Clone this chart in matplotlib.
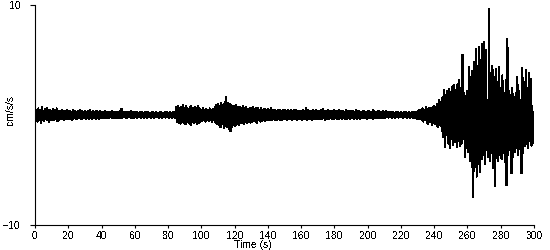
import numpy as np
import matplotlib.pyplot as plt

# peak values, one pair per second (cm/s/s)
upper = [
    0.55, 0.45, 0.6, 0.5, 0.7, 0.4, 0.55, 0.65, 0.45, 0.5,
    0.4, 0.55, 0.45, 0.6, 0.4, 0.35, 0.5, 0.4, 0.35, 0.45,
    0.35, 0.4, 0.3, 0.45, 0.35, 0.3, 0.4, 0.5, 0.35, 0.3,
    0.4, 0.3, 0.35, 0.45, 0.3, 0.35, 0.3, 0.4, 0.3, 0.35,
    0.3, 0.25, 0.35, 0.3, 0.25, 0.3, 0.35, 0.25, 0.3, 0.25,
    0.3, 0.35, 0.55, 0.3, 0.25, 0.3, 0.25, 0.3, 0.35, 0.25,
    0.25, 0.3, 0.2, 0.25, 0.3, 0.2, 0.25, 0.3, 0.25, 0.2,
    0.25, 0.3, 0.2, 0.25, 0.2, 0.3, 0.25, 0.2, 0.25, 0.3,
    0.2, 0.25, 0.2, 0.25, 0.3, 0.7, 0.8, 0.6, 0.75, 0.9,
    0.65, 0.8, 0.55, 0.7, 0.85, 0.6, 0.75, 0.65, 0.8, 0.6,
    0.5, 0.6, 0.45, 0.55, 0.5, 0.6, 0.45, 0.55, 0.7, 0.9,
    1.0, 0.85, 1.1, 0.95, 1.2, 1.65, 1.1, 1.0, 0.9, 0.85,
    0.8, 0.9, 0.7, 0.75, 0.65, 0.8, 0.6, 0.7, 0.55, 0.65,
    0.6, 0.7, 0.55, 0.6, 0.65, 0.5, 0.6, 0.45, 0.55, 0.5,
    0.55, 0.45, 0.6, 0.5, 0.45, 0.4, 0.5, 0.45, 0.4, 0.5,
    0.45, 0.4, 0.5, 0.35, 0.45, 0.4, 0.5, 0.45, 0.4, 0.35,
    0.4, 0.5, 0.35, 0.6, 0.45, 0.4, 0.35, 0.45, 0.4, 0.5,
    0.35, 0.4, 0.45, 0.55, 0.4, 0.35, 0.45, 0.4, 0.35, 0.4,
    0.45, 0.35, 0.4, 0.5, 0.35, 0.4, 0.3, 0.45, 0.4, 0.35,
    0.4, 0.35, 0.3, 0.45, 0.35, 0.4, 0.3, 0.35, 0.4, 0.3,
    0.35, 0.4, 0.3, 0.45, 0.35, 0.3, 0.4, 0.35, 0.3, 0.35,
    0.3, 0.35, 0.25, 0.3, 0.25, 0.3, 0.2, 0.25, 0.3, 0.2,
    0.25, 0.2, 0.25, 0.3, 0.2, 0.25, 0.2, 0.3, 0.25, 0.3,
    0.35, 0.5, 0.45, 0.6, 0.5, 0.7, 0.55, 0.65, 0.6, 0.7,
    0.8, 0.7, 1.0, 1.4, 1.2, 1.6, 2.3, 1.8, 2.2, 2.4,
    2.1, 2.6, 2.7, 2.3, 2.8, 3.2, 2.5, 5.45, 2.0, 1.7,
    2.2, 4.4, 3.5, 4.0, 4.8, 6.0, 4.5, 6.2, 5.0, 6.5,
    6.6, 5.9, 1.4, 9.6, 3.8, 4.5, 3.5, 4.2, 3.0, 4.4,
    2.5, 3.6, 2.0, 3.2, 6.9, 2.2, 1.8, 2.5, 1.6, 2.0,
    3.5, 2.2, 1.4, 4.3, 3.0, 4.1, 2.5, 3.8, 3.3, 0.8,
]
lower = [
    -0.5, -0.6, -0.45, -0.7, -0.5, -0.55, -0.4, -0.5, -0.6, -0.45,
    -0.45, -0.5, -0.4, -0.55, -0.45, -0.4, -0.35, -0.5, -0.4, -0.35,
    -0.4, -0.35, -0.45, -0.3, -0.4, -0.35, -0.3, -0.4, -0.35, -0.3,
    -0.35, -0.3, -0.4, -0.3, -0.35, -0.3, -0.35, -0.3, -0.35, -0.3,
    -0.25, -0.3, -0.25, -0.3, -0.25, -0.2, -0.3, -0.25, -0.3, -0.25,
    -0.3, -0.25, -0.3, -0.2, -0.25, -0.3, -0.2, -0.25, -0.3, -0.25,
    -0.2, -0.25, -0.2, -0.25, -0.2, -0.25, -0.2, -0.25, -0.2, -0.25,
    -0.2, -0.25, -0.2, -0.2, -0.25, -0.2, -0.25, -0.2, -0.25, -0.2,
    -0.25, -0.2, -0.25, -0.2, -0.3, -0.6, -0.7, -0.8, -0.6, -0.75,
    -0.85, -0.6, -0.7, -0.9, -0.65, -0.75, -0.6, -0.8, -0.7, -0.6,
    -0.55, -0.5, -0.6, -0.45, -0.55, -0.5, -0.6, -0.5, -0.7, -0.8,
    -0.9, -1.1, -0.85, -1.2, -1.0, -1.1, -1.3, -1.5, -1.1, -0.9,
    -1.0, -0.8, -0.9, -0.75, -0.7, -0.85, -0.65, -0.75, -0.6, -0.7,
    -0.65, -0.55, -0.6, -0.7, -0.5, -0.6, -0.55, -0.5, -0.55, -0.45,
    -0.5, -0.45, -0.5, -0.4, -0.5, -0.45, -0.4, -0.5, -0.45, -0.4,
    -0.4, -0.45, -0.35, -0.4, -0.45, -0.35, -0.4, -0.45, -0.35, -0.4,
    -0.45, -0.35, -0.4, -0.5, -0.35, -0.4, -0.45, -0.35, -0.4, -0.35,
    -0.4, -0.35, -0.4, -0.3, -0.45, -0.35, -0.4, -0.3, -0.35, -0.4,
    -0.3, -0.35, -0.4, -0.3, -0.35, -0.3, -0.4, -0.35, -0.3, -0.35,
    -0.3, -0.35, -0.3, -0.35, -0.3, -0.35, -0.3, -0.25, -0.3, -0.35,
    -0.3, -0.25, -0.3, -0.35, -0.3, -0.25, -0.3, -0.25, -0.3, -0.25,
    -0.25, -0.2, -0.25, -0.2, -0.25, -0.2, -0.25, -0.2, -0.25, -0.2,
    -0.2, -0.25, -0.2, -0.25, -0.2, -0.25, -0.2, -0.25, -0.3, -0.35,
    -0.4, -0.35, -0.45, -0.6, -0.5, -0.7, -0.85, -0.6, -0.9, -0.75,
    -0.8, -1.0, -1.1, -0.9, -1.5, -2.0, -2.9, -1.8, -2.6, -3.0,
    -2.2, -2.7, -2.5, -2.9, -2.4, -2.8, -2.6, -2.2, -3.8, -3.0,
    -3.4, -4.2, -4.7, -7.45, -3.8, -5.6, -4.5, -5.2, -4.0, -3.6,
    -4.5, -3.2, -3.8, -4.2, -3.5, -4.8, -6.5, -3.9, -4.2, -3.6,
    -4.0, -3.5, -4.3, -6.4, -3.6, -3.2, -5.3, -3.8, -3.4, -3.0,
    -3.6, -3.1, -5.3, -3.5, -2.8, -2.6, -3.0, -2.4, -2.8, -2.5,
]
x_ticks = list(range(0, 301, 20))
y_ticks = [-10, 10]

# zigzag between the peaks: up at t, down at t + 0.5
t = np.arange(len(upper))
cas = np.empty(2 * len(t))
cas[0::2] = t
cas[1::2] = t + 0.5
acc = np.empty(2 * len(t))
acc[0::2] = upper
acc[1::2] = lower

plt.rcParams['font.family'] = 'Liberation Sans'
plt.rcParams['text.antialiased'] = False

fig = plt.figure(figsize=(5.5, 2.5), dpi=100)
ax = fig.add_axes([35 / 550, 25 / 250, 499 / 550, 220 / 250])
ax.plot(cas, acc, color='black', linewidth=0.8, antialiased=False)

ax.set_xlim(0, 300)
ax.set_ylim(-10, 10)
ax.set_xticks(x_ticks)
ax.set_yticks(y_ticks)
ax.tick_params(axis='x', direction='out', length=2.5, width=0.8, pad=2, labelsize=7.5)
ax.tick_params(axis='y', direction='out', length=3.5, width=0.8, pad=7, labelsize=7.5)
for s in ['top', 'right']:
    ax.spines[s].set_visible(False)
ax.spines['left'].set_linewidth(0.8)
ax.spines['bottom'].set_linewidth(0.8)

ax.set_xlabel("Time (s)", fontsize=7.5)
ax.xaxis.set_label_coords(0.437, -0.07)
ax.set_ylabel("cm/s/s", fontsize=7.5)
ax.yaxis.set_label_coords(-0.04, 0.523)

fig.savefig("out.png", dpi=100)
